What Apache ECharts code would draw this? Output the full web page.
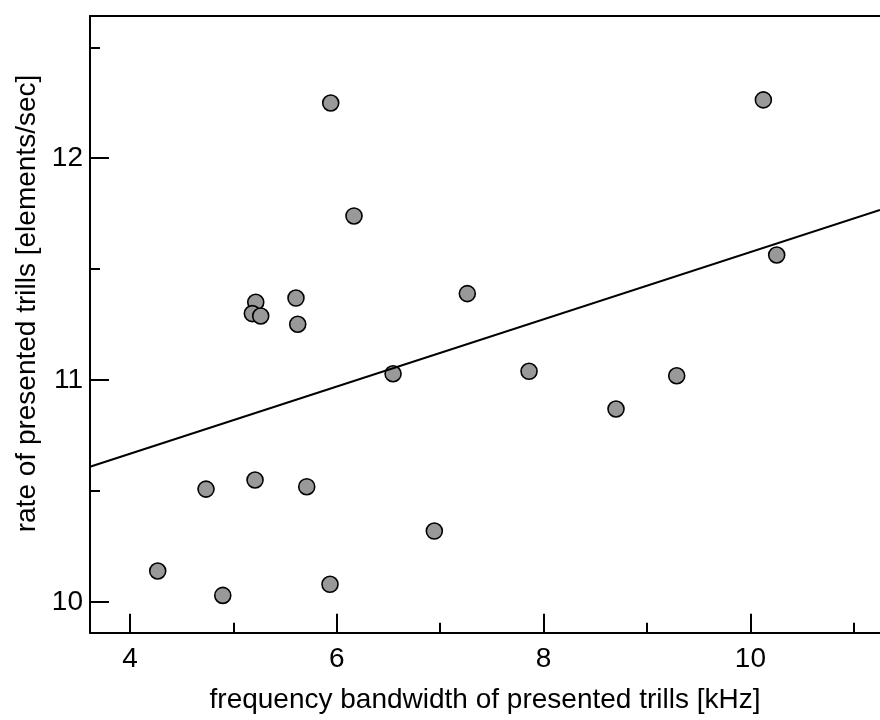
<!DOCTYPE html>
<html>
<head>
<meta charset="utf-8">
<script src="https://cdn.jsdelivr.net/npm/echarts@6/dist/echarts.min.js"></script>
<style>html,body{margin:0;padding:0;background:#fff;}#c{width:880px;height:720px;}</style>
</head>
<body>
<div id="c"></div>
<script>
// Data
var bandwidth = [4.268, 4.735, 4.897, 5.209, 5.709, 5.216, 5.183, 5.264, 5.605, 5.622, 5.941, 5.934, 6.166, 6.544, 6.943, 7.262, 7.859, 8.700, 9.287, 10.125, 10.254];
var rate      = [10.140, 10.509, 10.030, 10.550, 10.520, 11.351, 11.300, 11.289, 11.370, 11.252, 12.249, 10.080, 11.740, 11.029, 10.320, 11.390, 11.040, 10.870, 11.020, 12.263, 11.564];
var fitX = [3.613, 11.253];
var fitY = [10.610, 11.767];
var xMajorTicks = [4, 6, 8, 10];
var xMinorTicks = [5, 7, 9, 11];
var yMajorTicks = [10, 11, 12];
var yMinorTicks = [10.5, 11.5, 12.5];
var xRange = [3.613, 11.253];
var yRange = [9.862, 12.641];
var xTitle = 'frequency bandwidth of presented trills [kHz]';
var yTitle = 'rate of presented trills [elements/sec]';

var FONT = '"Liberation Sans", Arial, sans-serif';
var pts = bandwidth.map(function (x, i) { return [x, rate[i]]; });
var fit = fitX.map(function (x, i) { return [x, fitY[i]]; });

var chart = echarts.init(document.getElementById('c'), null, { renderer: 'canvas' });
var axisLineStyle = { color: '#000', width: 2 };
chart.setOption({
  animation: false,
  backgroundColor: '#fff',
  grid: { left: 90, top: 16, right: 0, bottom: 87.3, containLabel: false },
  xAxis: [
    {
      type: 'value', position: 'bottom', min: xRange[0], max: xRange[1],
      axisLine: { show: true, onZero: false, lineStyle: axisLineStyle },
      axisTick: { show: true, inside: true, length: 19, lineStyle: axisLineStyle, customValues: xMajorTicks },
      axisLabel: { show: true, customValues: xMajorTicks, fontSize: 28, fontFamily: FONT, color: '#000', margin: 13 },
      splitLine: { show: false },
      name: xTitle, nameLocation: 'middle', nameGap: 54,
      nameTextStyle: { fontSize: 28, fontFamily: FONT, color: '#000' }
    },
    {
      type: 'value', position: 'bottom', min: xRange[0], max: xRange[1],
      axisLine: { show: false },
      axisTick: { show: true, inside: true, length: 10, lineStyle: axisLineStyle, customValues: xMinorTicks },
      axisLabel: { show: false },
      splitLine: { show: false }
    },
    {
      type: 'value', position: 'top', min: xRange[0], max: xRange[1],
      axisLine: { show: true, onZero: false, lineStyle: axisLineStyle },
      axisTick: { show: false }, axisLabel: { show: false }, splitLine: { show: false }
    }
  ],
  yAxis: [
    {
      type: 'value', position: 'left', min: yRange[0], max: yRange[1],
      axisLine: { show: true, onZero: false, lineStyle: axisLineStyle },
      axisTick: { show: true, inside: true, length: 19, lineStyle: axisLineStyle, customValues: yMajorTicks },
      axisLabel: { show: true, customValues: yMajorTicks, fontSize: 28, fontFamily: FONT, color: '#000', margin: 7 },
      splitLine: { show: false }
    },
    {
      type: 'value', position: 'left', min: yRange[0], max: yRange[1],
      axisLine: { show: false },
      axisTick: { show: true, inside: true, length: 10, lineStyle: axisLineStyle, customValues: yMinorTicks },
      axisLabel: { show: false },
      splitLine: { show: false }
    }
  ],
  graphic: [
    {
      type: 'text', left: null, x: 27, y: 303.5, rotation: Math.PI / 2,
      style: { text: yTitle, fontSize: 28, fontFamily: FONT, fill: '#000', align: 'center', verticalAlign: 'middle' }
    }
  ],
  series: [
    {
      type: 'scatter', xAxisIndex: 0, yAxisIndex: 0, data: pts,
      symbol: 'circle', symbolSize: 16,
      itemStyle: { color: '#999999', borderColor: '#000', borderWidth: 1.6, opacity: 1 },
      z: 2
    },
    {
      type: 'line', xAxisIndex: 0, yAxisIndex: 0, data: fit,
      symbol: 'none', lineStyle: { color: '#000', width: 2 }, z: 3, silent: true
    }
  ]
});
</script>
</body>
</html>
